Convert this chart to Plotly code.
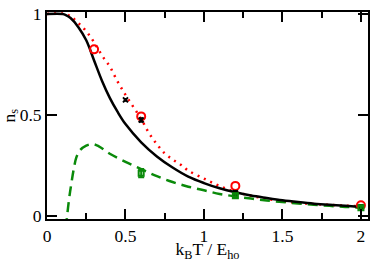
import plotly.graph_objects as go

# Curves
black_x = [0, 0.1, 0.12, 0.15, 0.2, 0.25, 0.3, 0.35, 0.4, 0.45, 0.5, 0.6, 0.7, 0.8, 0.9, 1.0,
           1.1, 1.2, 1.3, 1.4, 1.5, 1.6, 1.7, 1.8, 1.9, 2.0]
black_y = [1.0, 1.0, 0.995, 0.98, 0.935, 0.87, 0.77, 0.67, 0.585, 0.515, 0.455, 0.365, 0.295,
           0.24, 0.195, 0.163, 0.137, 0.117, 0.101, 0.089, 0.078, 0.069, 0.061, 0.055, 0.05, 0.045]

red_x = [0, 0.12, 0.156, 0.2, 0.25, 0.3, 0.35, 0.4, 0.45, 0.5, 0.55, 0.6, 0.65, 0.7, 0.75, 0.8,
         0.85, 0.9, 1.0, 1.1, 1.2, 1.3, 1.4, 1.5, 1.6, 1.7, 1.8, 1.9, 2.0]
red_y = [1.0, 1.0, 0.985, 0.955, 0.915, 0.86, 0.795, 0.74, 0.665, 0.6, 0.54, 0.48, 0.41, 0.355,
         0.31, 0.28, 0.255, 0.225, 0.185, 0.148, 0.12, 0.1, 0.085, 0.072, 0.065, 0.059, 0.055,
         0.051, 0.048]

green_x = [0.12, 0.14, 0.156, 0.17, 0.187, 0.21, 0.25, 0.29, 0.33, 0.4, 0.5, 0.6, 0.7, 0.8, 0.9,
           1.0, 1.1, 1.2, 1.3, 1.4, 1.5, 1.6, 1.7, 1.8, 1.9, 2.0]
green_y = [-0.06, 0.08, 0.165, 0.23, 0.29, 0.325, 0.348, 0.356, 0.345, 0.308, 0.268, 0.232,
           0.197, 0.168, 0.145, 0.127, 0.109, 0.097, 0.086, 0.077, 0.069, 0.062, 0.056, 0.05,
           0.045, 0.041]

# Data points
circ_x = [0.3, 0.6, 1.2, 2.0]
circ_y = [0.825, 0.493, 0.149, 0.053]

cross_x = [0.5, 0.6, 1.2, 2.0]
cross_y = [0.575, 0.475, 0.115, 0.045]
cross_err = [0.006, 0.01, 0.01, 0.01]

sq_x = [0.6, 1.2, 2.0]
sq_y = [0.212, 0.10, 0.041]
sq_err = [0.02, 0.01, 0.01]

# Tick labels
x_ticks = [0, 0.5, 1, 1.5, 2]
x_ticktext = ["0", "0.5", "1", "1.5", "2"]
x_minor = [0.25, 0.75, 1.25, 1.75]
y_ticks = [0, 0.5, 1]
y_ticktext = ["0", "0.5", "1"]

GREEN = "#0a8a0a"
fig = go.Figure()
fig.add_trace(go.Scatter(x=red_x, y=red_y, mode="lines",
                         line=dict(color="red", width=2.5, dash="2px,5px", shape="spline")))
fig.add_trace(go.Scatter(x=green_x, y=green_y, mode="lines",
                         line=dict(color=GREEN, width=2.5, dash="10px,6px", shape="spline")))
fig.add_trace(go.Scatter(x=black_x, y=black_y, mode="lines",
                         line=dict(color="black", width=2.5, shape="spline")))
fig.add_trace(go.Scatter(x=circ_x, y=circ_y, mode="markers",
                         marker=dict(symbol="circle-open", size=8, color="red",
                                     line=dict(width=2, color="red"))))
fig.add_trace(go.Scatter(x=cross_x, y=cross_y, mode="markers",
                         error_y=dict(type="data", array=cross_err, color="black",
                                      thickness=1.5, width=2),
                         marker=dict(symbol="x-thin-open", size=5, color="black",
                                     line=dict(width=2, color="black"))))
fig.add_trace(go.Scatter(x=sq_x, y=sq_y, mode="markers",
                         error_y=dict(type="data", array=sq_err, color=GREEN,
                                      thickness=2, width=3),
                         marker=dict(symbol="square-open", size=5, color=GREEN,
                                     line=dict(width=2, color=GREEN))))

font = dict(family="Liberation Serif", size=17.5, color="black")
axis_common = dict(showgrid=False, zeroline=False, showline=True, linecolor="black",
                   linewidth=2, mirror="allticks", ticks="inside", ticklen=10,
                   tickwidth=2, tickcolor="black", tickfont=font,
                   ticklabeloverflow="allow")

fig.update_layout(
    width=374, height=262,
    margin=dict(l=47, r=4, t=4, b=43),
    paper_bgcolor="white", plot_bgcolor="white",
    showlegend=False,
    font=font,
    xaxis=dict(range=[0, 2.045], tickvals=x_ticks, ticktext=x_ticktext,
               minor=dict(tickvals=x_minor, ticks="inside", ticklen=6,
                          tickwidth=2, tickcolor="black"),
               title=dict(text="k<sub>B</sub>T / E<sub>ho</sub>", font=font, standoff=0),
               **axis_common),
    yaxis=dict(range=[-0.015, 1.01], tickvals=y_ticks, ticktext=y_ticktext,
               **axis_common),
    annotations=[dict(text="n<sub>s</sub>", textangle=-90, xref="paper", yref="paper",
                      x=0, y=0.5, xanchor="center", yanchor="middle", xshift=-37,
                      showarrow=False, font=font)],
)

fig.write_html("out.html", config={"displayModeBar": False},
               post_script="document.body.style.margin='0';document.body.style.overflow='hidden';")
